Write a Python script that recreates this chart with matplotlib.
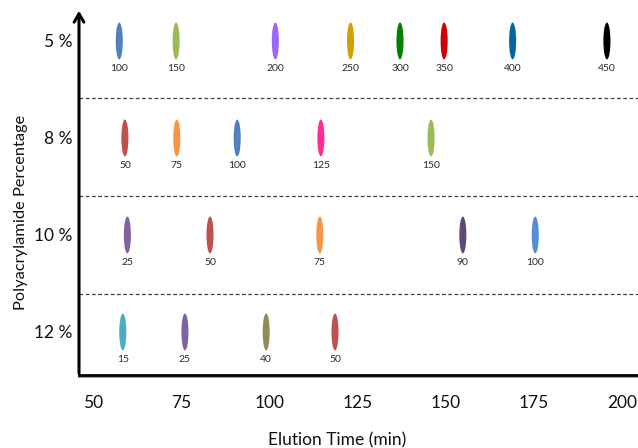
import matplotlib.pyplot as plt
from matplotlib.patches import Ellipse

plt.rcParams['font.family'] = ['Lato', 'DejaVu Sans']

# gel percentage rows (top to bottom) and their bands
gels = ['5 %', '8 %', '10 %', '12 %']

times_5 = [57.5, 73.6, 101.7, 123.0, 137.0, 149.5, 168.9, 195.6]
sizes_5 = ['100', '150', '200', '250', '300', '350', '400', '450']
colors_5 = ['#4F81BD', '#9BBB59', '#9966FF', '#D4A000', '#008000', '#D00000', '#00669E', '#000000']

times_8 = [59.1, 73.8, 90.9, 114.6, 145.8]
sizes_8 = ['50', '75', '100', '125', '150']
colors_8 = ['#C0504D', '#F79646', '#4F81BD', '#FF2E93', '#9BBB59']

times_10 = [59.8, 83.2, 114.3, 154.8, 175.3]
sizes_10 = ['25', '50', '75', '90', '100']
colors_10 = ['#8064A2', '#C0504D', '#F79646', '#5F497A', '#558ED5']

times_12 = [58.5, 76.1, 99.1, 118.6]
sizes_12 = ['15', '25', '40', '50']
colors_12 = ['#4BACC6', '#8064A2', '#948A54', '#C0504D']

xticks = [50, 75, 100, 125, 150, 175, 200]

rows = [(times_5, sizes_5, colors_5),
        (times_8, sizes_8, colors_8),
        (times_10, sizes_10, colors_10),
        (times_12, sizes_12, colors_12)]

fig = plt.figure(figsize=(6.38, 4.48), dpi=100)
ax = fig.add_axes([79 / 638, 72 / 448, 559 / 638, 368 / 448])
ax.set_xlim(46.1, 204.4)
ax.set_ylim(-0.454, 3.34)

for i, (times, sizes, colors) in enumerate(rows):
    y = 3 - i
    for t, s, c in zip(times, sizes, colors):
        ax.add_patch(Ellipse((t, y), width=2.0, height=0.38, color=c, lw=0))
        ax.annotate(s, (t, y), xytext=(0, -19.5), textcoords='offset points',
                    ha='center', va='center', fontsize=7.5, color='#2a2a2a')

# dashed separators between gel rows
for y in [2.41, 1.40, 0.39]:
    ax.axhline(y, color='#404040', lw=0.9, ls=(0, (3, 2)))

for sp in ax.spines.values():
    sp.set_visible(False)

# axes drawn as arrows
ax.annotate('', xy=(0, 1.0), xytext=(0, 0), xycoords='axes fraction',
            arrowprops=dict(arrowstyle='->,head_length=0.6,head_width=0.35', lw=2.2, color='black'),
            annotation_clip=False)
ax.plot([0, 1.0], [0, 0], transform=ax.transAxes, color='#999999', lw=2.2, clip_on=False, zorder=2)
ax.plot([0, 1.0], [0.003, 0.003], transform=ax.transAxes, color='black', lw=2.0, clip_on=False, zorder=3)

ax.set_xticks(xticks)
ax.set_xticklabels([str(v) for v in xticks])
ax.set_yticks([3, 2, 1, 0])
ax.set_yticklabels(gels)
ax.tick_params(axis='x', length=0, pad=14, labelsize=12.5, labelcolor='#111111')
ax.tick_params(axis='y', length=0, pad=4.5, labelsize=12.5, labelcolor='#111111')

ax.set_xlabel('Elution Time (min)', fontsize=12.5, color='#111111')
ax.xaxis.set_label_coords((337.5 - 79) / 559, -0.152)
ax.set_ylabel('Polyacrylamide Percentage', fontsize=11.8, color='#111111')
ax.yaxis.set_label_coords(-(79 - 28) / 559, (376 - 212) / 368)

plt.savefig('out.png')
